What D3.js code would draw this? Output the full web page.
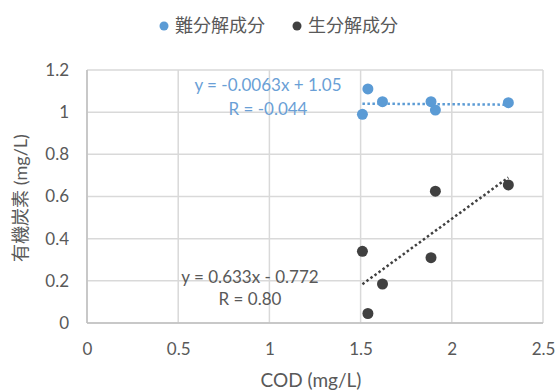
<!DOCTYPE html>
<html><head><meta charset="utf-8">
<script src="https://cdn.jsdelivr.net/npm/d3@7"></script>
<style>body{margin:0;background:#fff}svg{display:block}text{font-family:Lato,"Noto Sans CJK JP",sans-serif}</style>
</head><body>
<script>
const cod = [1.51, 1.54, 1.62, 1.886, 1.91, 2.31];
const refractory = [0.99, 1.11, 1.05, 1.05, 1.01, 1.045];
const codBio = [1.51, 1.54, 1.62, 1.886, 1.91, 2.31];
const biodegradable = [0.34, 0.045, 0.185, 0.31, 0.625, 0.655];
const xTicks = [0, 0.5, 1, 1.5, 2, 2.5];
const yTicks = [0, 0.2, 0.4, 0.6, 0.8, 1, 1.2];
const seriesNames = ["難分解成分", "生分解成分"];
const trendBlue = {slope: -0.0063, intercept: 1.05, eq: "y = -0.0063x + 1.05", r: "R = -0.044"};
const trendBlack = {slope: 0.633, intercept: -0.772, eq: "y = 0.633x - 0.772", r: "R = 0.80"};

const W = 558, H = 391;
const blue = "#5b9bd5", dark = "#404040";
const svg = d3.select("body").append("svg").attr("width", W).attr("height", H);
const x = d3.scaleLinear().domain([0, 2.5]).range([87, 543]);
const y = d3.scaleLinear().domain([0, 1.2]).range([323, 70]);

const g = svg.append("g");
g.selectAll(".hg").data(yTicks).join("line")
  .attr("x1", x(0)).attr("x2", x(2.5)).attr("y1", d => y(d)).attr("y2", d => y(d))
  .attr("stroke", "#d9d9d9").attr("stroke-width", 1.5);
g.selectAll(".vg").data(xTicks).join("line")
  .attr("y1", y(0)).attr("y2", y(1.2)).attr("x1", d => x(d)).attr("x2", d => x(d))
  .attr("stroke", "#d9d9d9").attr("stroke-width", 1.5);
g.append("line").attr("x1", x(0)).attr("x2", x(2.5)).attr("y1", y(0)).attr("y2", y(0)).attr("stroke", "#bfbfbf").attr("stroke-width", 1.5);
g.append("line").attr("x1", x(0)).attr("x2", x(0)).attr("y1", y(0)).attr("y2", y(1.2)).attr("stroke", "#bfbfbf").attr("stroke-width", 1.5);

const xAxis = d3.axisBottom(x).tickValues(xTicks).tickSize(0).tickPadding(20).tickFormat(d3.format("~g"));
svg.append("g").attr("transform", `translate(0,${y(0)})`).call(xAxis)
  .call(a => a.select(".domain").remove())
  .selectAll("text").attr("font-size", 17).attr("fill", "#595959").style("font-family", "Lato");
const yAxis = d3.axisLeft(y).tickValues(yTicks).tickSize(0).tickPadding(18).tickFormat(d3.format("~g"));
svg.append("g").attr("transform", `translate(${x(0)},0)`).call(yAxis)
  .call(a => a.select(".domain").remove())
  .selectAll("text").attr("font-size", 17).attr("fill", "#595959").style("font-family", "Lato");

svg.append("text").attr("x", 311).attr("y", 387).attr("text-anchor", "middle")
  .attr("font-size", 19).attr("fill", "#595959").text("COD (mg/L)");
svg.append("text").attr("transform", "translate(27,198) rotate(-90)").attr("text-anchor", "middle")
  .attr("font-size", 18).attr("fill", "#595959").text("有機炭素 (mg/L)");

function trend(t, xs, color) {
  const x0 = d3.min(xs), x1 = d3.max(xs);
  svg.append("line").attr("x1", x(x0)).attr("x2", x(x1))
    .attr("y1", y(t.slope * x0 + t.intercept)).attr("y2", y(t.slope * x1 + t.intercept))
    .attr("stroke", color).attr("stroke-width", 2.5).attr("stroke-dasharray", "2.5,2.5");
}
trend(trendBlue, cod, blue);
trend(trendBlack, codBio, dark);

svg.selectAll(".pb").data(cod).join("circle")
  .attr("cx", d => x(d)).attr("cy", (d, i) => y(refractory[i])).attr("r", 5.5).attr("fill", blue);
svg.selectAll(".pk").data(codBio).join("circle")
  .attr("cx", d => x(d)).attr("cy", (d, i) => y(biodegradable[i])).attr("r", 5.5).attr("fill", dark);

const blueText = "#6a9fd6", darkText = "#595959";
svg.append("text").attr("x", 268).attr("y", 91).attr("text-anchor", "middle").attr("font-size", 17).attr("fill", blueText).text(trendBlue.eq);
svg.append("text").attr("x", 268).attr("y", 115).attr("text-anchor", "middle").attr("font-size", 17).attr("fill", blueText).text(trendBlue.r);
svg.append("text").attr("x", 250).attr("y", 283).attr("text-anchor", "middle").attr("font-size", 17).attr("fill", darkText).text(trendBlack.eq);
svg.append("text").attr("x", 250).attr("y", 305).attr("text-anchor", "middle").attr("font-size", 17).attr("fill", darkText).text(trendBlack.r);

const leg = [{name: seriesNames[0], c: blue, x: 164}, {name: seriesNames[1], c: dark, x: 297}];
leg.forEach(l => {
  svg.append("circle").attr("cx", l.x).attr("cy", 26).attr("r", 4.5).attr("fill", l.c);
  svg.append("text").attr("x", l.x + 11).attr("y", 32).attr("font-size", 18).attr("fill", "#595959").text(l.name);
});
</script>
</body></html>
